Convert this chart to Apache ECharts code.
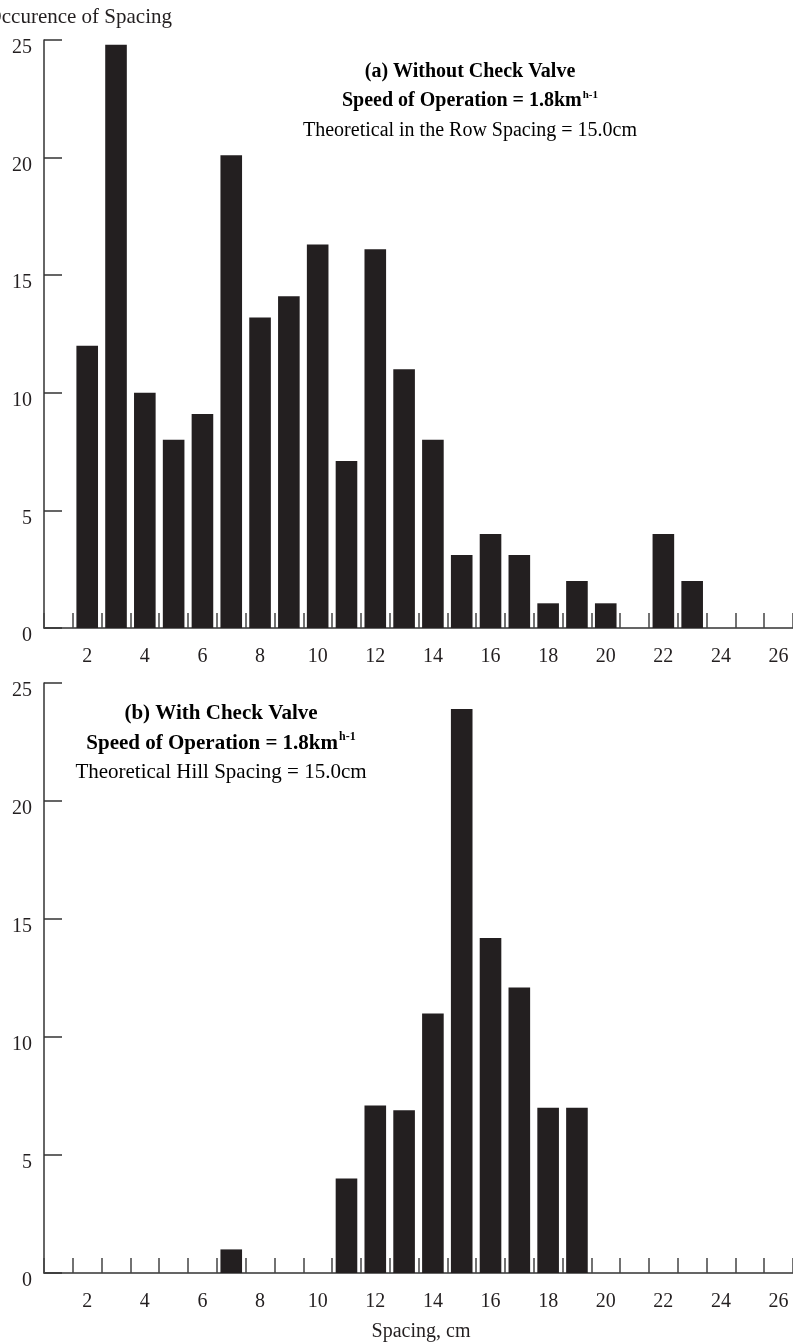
<!DOCTYPE html>
<html>
<head>
<meta charset="utf-8">
<script src="https://cdn.jsdelivr.net/npm/echarts@6/dist/echarts.min.js"></script>
<style>
html,body{margin:0;padding:0;background:#fff;}
#c{width:793px;height:1344px;}
</style>
</head>
<body>
<div id="c"></div>
<script>
const categories = ['1','2','3','4','5','6','7','8','9','10','11','12','13','14','15','16','17','18','19','20','21','22','23','24','25','26'];
const withoutValve = [0,12,24.8,10,8,9.1,20.1,13.2,14.1,16.3,7.1,16.1,11,8,3.1,4,3.1,1.05,2,1.05,0,4,2,0,0,0];
const withValve = [0,0,0,0,0,0,1,0,0,0,4,7.1,6.9,11,23.9,14.2,12.1,7,7,0,0,0,0,0,0,0];
const yMin = 0, yMax = 25, yStep = 5;
const titleA = ['(a) Without Check Valve', 'Speed of Operation = 1.8km', 'h-1', 'Theoretical in the Row Spacing = 15.0cm'];
const titleB = ['(b) With Check Valve', 'Speed of Operation = 1.8km', 'h-1', 'Theoretical Hill Spacing = 15.0cm'];
const yAxisName = 'Occurence of Spacing';
const xAxisName = 'Spacing, cm';

const FONT = '"Liberation Serif", "DejaVu Serif", serif';
const INK = '#231f20';

function xAxis(gi) {
  return {
    type: 'category', gridIndex: gi, data: categories, boundaryGap: true,
    axisLine: {show: true, lineStyle: {color: '#333', width: 1.5}},
    axisTick: {show: true, inside: true, length: 15, interval: 0, lineStyle: {color: '#444', width: 1.5}},
    axisLabel: {interval: function (i) { return (i + 1) % 2 === 0; }, margin: 19, fontFamily: FONT, fontSize: 20, color: INK},
    splitLine: {show: false}
  };
}
function yAxis(gi) {
  return {
    type: 'value', gridIndex: gi, min: yMin, max: yMax, interval: yStep,
    axisLine: {show: true, lineStyle: {color: '#333', width: 1.5}},
    axisTick: {show: true, inside: true, length: 18, lineStyle: {color: '#333', width: 1.5}},
    axisLabel: {margin: 12, fontFamily: FONT, fontSize: 20, color: INK, verticalAlign: 'top', lineHeight: 16},
    splitLine: {show: false}
  };
}
function titleRich(t) {
  return '{b|' + t[0] + '}\n{b|' + t[1] + '}{sup|' + t[2] + '}\n{n|' + t[3] + '}';
}
function makeRich(fs) {
  return {
    b: {fontFamily: FONT, fontSize: fs, fontWeight: 'bold', color: INK, lineHeight: 29.5},
    sup: {fontFamily: FONT, fontSize: Math.round(fs * 0.55), fontWeight: 'bold', color: INK, lineHeight: 29.5, padding: [0, 0, 13, 1]},
    n: {fontFamily: FONT, fontSize: fs, color: INK, lineHeight: 29.5}
  };
}

const chart = echarts.init(document.getElementById('c'), null, {renderer: 'canvas'});
chart.setOption({
  animation: false,
  backgroundColor: '#fff',
  grid: [
    {left: 44, right: 0, top: 40, height: 588},
    {left: 44, right: 0, top: 683, height: 590}
  ],
  xAxis: [xAxis(0), xAxis(1)],
  yAxis: [yAxis(0), yAxis(1)],
  series: [
    {type: 'bar', xAxisIndex: 0, yAxisIndex: 0, data: withoutValve, barWidth: '75%', itemStyle: {color: INK}},
    {type: 'bar', xAxisIndex: 1, yAxisIndex: 1, data: withValve, barWidth: '75%', itemStyle: {color: INK}}
  ],
  graphic: [
    {type: 'text', x: 470, y: 57, style: {text: titleRich(titleA), rich: makeRich(20), align: 'center', verticalAlign: 'top'}},
    {type: 'text', x: 221, y: 699, style: {text: titleRich(titleB), rich: makeRich(21), align: 'center', verticalAlign: 'top'}},
    {type: 'text', x: 172, y: 17, style: {text: yAxisName, fontFamily: FONT, fontSize: 21, fill: INK, align: 'right', verticalAlign: 'middle'}},
    {type: 'text', x: 421, y: 1332, style: {text: xAxisName, fontFamily: FONT, fontSize: 20, fill: INK, align: 'center', verticalAlign: 'middle'}}
  ]
});
</script>
</body>
</html>
